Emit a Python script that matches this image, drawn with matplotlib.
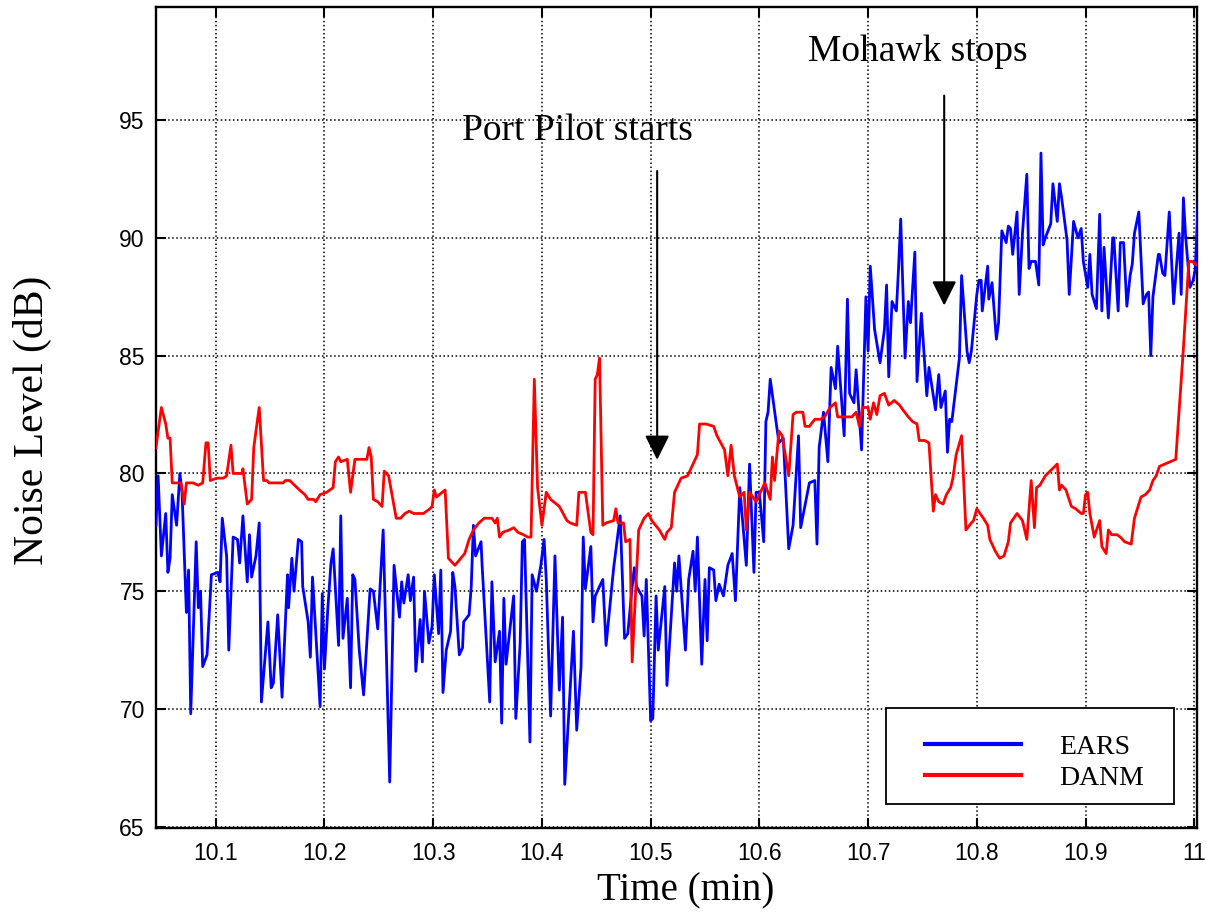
import numpy as np
import matplotlib.pyplot as plt
from matplotlib.patches import Rectangle

# ---- data (time in min, level in dB) ----
ears_t = [10.045, 10.047, 10.050, 10.054, 10.056, 10.058, 10.060, 10.064, 10.067, 10.069,
          10.073, 10.075, 10.077, 10.082, 10.084, 10.086, 10.088, 10.092, 10.096, 10.102,
          10.104, 10.106, 10.110, 10.112, 10.116, 10.120, 10.122, 10.125, 10.129, 10.131,
          10.133, 10.137, 10.140, 10.142, 10.148, 10.151, 10.153, 10.157, 10.161, 10.166,
          10.167, 10.170, 10.172, 10.176, 10.179, 10.180, 10.185, 10.187, 10.189, 10.196,
          10.198, 10.200, 10.203, 10.206, 10.208, 10.213, 10.215, 10.217, 10.221, 10.224,
          10.226, 10.228, 10.232, 10.236, 10.242, 10.245, 10.249, 10.254, 10.260, 10.264,
          10.269, 10.271, 10.273, 10.277, 10.279, 10.282, 10.284, 10.288, 10.290, 10.292,
          10.296, 10.299, 10.301, 10.305, 10.307, 10.309, 10.312, 10.316, 10.318, 10.320,
          10.324, 10.327, 10.328, 10.333, 10.335, 10.337, 10.339, 10.344, 10.345, 10.352,
          10.354, 10.357, 10.361, 10.363, 10.365, 10.367, 10.374, 10.376, 10.380, 10.382,
          10.384, 10.389, 10.391, 10.395, 10.399, 10.402, 10.404, 10.408, 10.412, 10.416,
          10.419, 10.421, 10.429, 10.432, 10.436, 10.438, 10.440, 10.445, 10.447, 10.449,
          10.456, 10.459, 10.466, 10.472, 10.476, 10.479, 10.483, 10.485, 10.487, 10.492,
          10.494, 10.496, 10.500, 10.502, 10.505, 10.507, 10.513, 10.515, 10.522, 10.524,
          10.526, 10.532, 10.535, 10.539, 10.541, 10.543, 10.547, 10.550, 10.552, 10.554,
          10.558, 10.560, 10.563, 10.567, 10.571, 10.575, 10.578, 10.582, 10.588, 10.591,
          10.595, 10.597, 10.600, 10.604, 10.606, 10.608, 10.610, 10.618, 10.622, 10.627,
          10.631, 10.636, 10.638, 10.646, 10.651, 10.653, 10.655, 10.659, 10.663, 10.666,
          10.670, 10.672, 10.678, 10.681, 10.683, 10.687, 10.689, 10.694, 10.698, 10.700,
          10.702, 10.706, 10.711, 10.715, 10.717, 10.719, 10.722, 10.726, 10.728, 10.730,
          10.734, 10.737, 10.739, 10.743, 10.745, 10.749, 10.754, 10.756, 10.762, 10.765,
          10.767, 10.771, 10.773, 10.775, 10.777, 10.784, 10.786, 10.791, 10.793, 10.795,
          10.800, 10.802, 10.804, 10.805, 10.810, 10.811, 10.814, 10.818, 10.820, 10.823,
          10.827, 10.829, 10.831, 10.833, 10.837, 10.839, 10.842, 10.846, 10.848, 10.850,
          10.854, 10.857, 10.859, 10.861, 10.863, 10.868, 10.870, 10.874, 10.876, 10.878,
          10.883, 10.885, 10.889, 10.893, 10.896, 10.898, 10.902, 10.904, 10.906, 10.910,
          10.913, 10.915, 10.917, 10.921, 10.925, 10.926, 10.930, 10.932, 10.935, 10.938,
          10.941, 10.943, 10.945, 10.949, 10.953, 10.956, 10.958, 10.960, 10.962, 10.967,
          10.968, 10.971, 10.973, 10.977, 10.981, 10.986, 10.988, 10.990, 10.992, 10.996,
          10.999, 11.001, 11.004]
ears_db = [77.8, 79.9, 76.5, 78.3, 75.8, 76.4, 79.1, 77.8, 80.0, 79.2,
           74.1, 75.9, 69.8, 77.1, 74.3, 75.0, 71.8, 72.3, 75.7, 75.8,
           75.4, 78.1, 76.5, 72.5, 77.3, 77.2, 76.2, 78.2, 75.4, 77.4,
           75.6, 76.5, 77.9, 70.3, 73.7, 70.9, 71.1, 74.0, 70.5, 75.7,
           74.3, 76.4, 75.0, 77.2, 77.1, 75.2, 73.7, 72.2, 75.6, 70.1,
           74.9, 71.7, 74.2, 76.2, 76.8, 72.7, 78.2, 73.0, 74.7, 70.9,
           75.7, 75.5, 72.5, 70.6, 75.1, 75.0, 73.4, 77.6, 66.9, 76.1,
           73.9, 75.4, 74.5, 75.7, 74.6, 75.6, 71.6, 73.8, 72.0, 75.0,
           72.8, 73.5, 75.7, 73.2, 75.9, 70.7, 72.5, 73.3, 75.8, 75.2,
           72.3, 72.6, 73.7, 74.0, 75.2, 77.8, 76.5, 77.1, 76.1, 70.3,
           75.4, 72.0, 73.3, 69.4, 74.7, 71.9, 74.8, 69.6, 72.8, 77.1,
           77.2, 68.6, 75.7, 75.0, 76.1, 77.2, 75.5, 69.7, 76.5, 70.8,
           73.9, 66.8, 73.3, 69.1, 71.8, 77.3, 75.1, 76.9, 73.7, 74.8,
           75.5, 72.7, 76.0, 78.2, 73.0, 73.2, 75.2, 76.0, 75.2, 74.8,
           73.1, 75.5, 69.5, 69.6, 74.8, 72.5, 75.2, 71.0, 76.2, 75.0,
           76.5, 72.5, 75.5, 76.7, 75.0, 77.3, 71.9, 75.5, 72.9, 76.0,
           75.9, 74.6, 75.3, 74.8, 76.1, 76.6, 74.6, 79.4, 76.1, 80.4,
           75.8, 79.2, 79.2, 77.1, 82.2, 82.6, 84.0, 81.3, 81.5, 76.8,
           77.8, 81.6, 77.7, 79.6, 79.7, 77.0, 81.1, 82.6, 80.5, 84.5,
           83.6, 85.4, 81.6, 87.4, 83.4, 83.0, 84.4, 81.0, 87.5, 85.2,
           88.8, 86.1, 84.7, 86.1, 88.0, 84.1, 87.3, 86.9, 88.7, 90.8,
           84.9, 87.3, 86.4, 89.4, 83.9, 86.8, 83.3, 84.5, 82.7, 84.2,
           82.8, 83.5, 80.9, 82.3, 82.2, 84.9, 88.4, 85.2, 84.7, 85.2,
           87.6, 88.2, 88.2, 86.9, 88.8, 87.4, 88.1, 85.7, 86.4, 90.3,
           89.8, 90.5, 90.4, 89.3, 91.1, 87.6, 90.2, 92.7, 88.7, 89.0,
           89.0, 88.0, 93.6, 89.7, 90.0, 90.6, 92.3, 90.7, 92.3, 91.7,
           89.9, 87.6, 90.7, 90.0, 90.4, 89.0, 87.9, 89.3, 87.6, 87.0,
           91.0, 86.9, 89.6, 86.6, 90.0, 90.0, 86.9, 89.8, 89.8, 87.1,
           88.4, 88.9, 90.2, 91.1, 87.2, 87.6, 87.7, 85.0, 87.5, 89.3,
           89.3, 88.5, 88.4, 91.1, 87.2, 90.2, 87.6, 91.7, 90.1, 87.9,
           88.2, 88.7, 92.0]

danm_t = [10.045, 10.050, 10.054, 10.056, 10.058, 10.060, 10.068, 10.071, 10.073, 10.079,
          10.084, 10.088, 10.091, 10.093, 10.095, 10.101, 10.107, 10.110, 10.114, 10.116,
          10.124, 10.125, 10.129, 10.133, 10.135, 10.137, 10.140, 10.144, 10.147, 10.149,
          10.162, 10.164, 10.168, 10.177, 10.182, 10.185, 10.190, 10.192, 10.196, 10.202,
          10.208, 10.210, 10.213, 10.215, 10.221, 10.224, 10.228, 10.239, 10.241, 10.243,
          10.245, 10.249, 10.253, 10.255, 10.259, 10.266, 10.270, 10.274, 10.278, 10.282,
          10.291, 10.297, 10.299, 10.301, 10.303, 10.311, 10.314, 10.320, 10.329, 10.333,
          10.337, 10.342, 10.347, 10.354, 10.357, 10.359, 10.361, 10.364, 10.370, 10.374,
          10.378, 10.383, 10.387, 10.390, 10.393, 10.396, 10.400, 10.404, 10.408, 10.416,
          10.423, 10.426, 10.432, 10.434, 10.440, 10.445, 10.447, 10.449, 10.451, 10.453,
          10.456, 10.459, 10.466, 10.468, 10.470, 10.475, 10.477, 10.481, 10.483, 10.489,
          10.494, 10.498, 10.501, 10.508, 10.513, 10.515, 10.519, 10.522, 10.528, 10.534,
          10.538, 10.543, 10.545, 10.551, 10.558, 10.561, 10.568, 10.571, 10.574, 10.577,
          10.582, 10.586, 10.588, 10.591, 10.597, 10.605, 10.610, 10.612, 10.614, 10.618,
          10.621, 10.627, 10.631, 10.634, 10.640, 10.642, 10.646, 10.651, 10.656, 10.660,
          10.665, 10.670, 10.672, 10.685, 10.689, 10.692, 10.695, 10.700, 10.702, 10.705,
          10.708, 10.711, 10.715, 10.719, 10.724, 10.729, 10.732, 10.737, 10.741, 10.745,
          10.747, 10.752, 10.756, 10.760, 10.762, 10.765, 10.769, 10.772, 10.776, 10.778,
          10.781, 10.786, 10.790, 10.795, 10.797, 10.800, 10.806, 10.810, 10.812, 10.817,
          10.821, 10.825, 10.829, 10.831, 10.837, 10.842, 10.846, 10.850, 10.853, 10.855,
          10.858, 10.863, 10.874, 10.876, 10.878, 10.882, 10.887, 10.891, 10.896, 10.898,
          10.900, 10.902, 10.904, 10.908, 10.913, 10.915, 10.919, 10.921, 10.924, 10.929,
          10.932, 10.936, 10.942, 10.945, 10.951, 10.955, 10.959, 10.962, 10.965, 10.968,
          10.973, 10.978, 10.983, 10.990, 10.995, 10.998, 11.004]
danm_db = [81.1, 82.8, 82.1, 81.5, 81.5, 79.6, 79.6, 78.7, 79.6, 79.6,
           79.5, 79.6, 81.3, 81.3, 79.7, 79.8, 79.8, 79.9, 81.2, 80.0,
           80.0, 80.2, 78.7, 78.9, 81.1, 81.8, 82.8, 79.7, 79.7, 79.6,
           79.6, 79.7, 79.7, 79.3, 79.1, 78.9, 78.9, 78.8, 79.1, 79.2,
           79.4, 80.5, 80.7, 80.5, 80.6, 79.2, 80.6, 80.6, 81.1, 80.7,
           78.9, 78.8, 78.6, 80.1, 79.9, 78.1, 78.1, 78.3, 78.4, 78.3,
           78.3, 78.5, 78.6, 79.3, 79.0, 79.3, 76.4, 76.1, 76.6, 77.2,
           77.6, 77.9, 78.1, 78.1, 77.9, 78.1, 77.3, 77.5, 77.6, 77.7,
           77.5, 77.4, 77.3, 77.3, 84.0, 79.4, 77.8, 79.2, 78.9, 78.6,
           78.0, 77.9, 77.8, 79.2, 79.2, 77.5, 77.4, 84.0, 84.2, 84.9,
           77.8, 77.9, 78.0, 78.5, 77.9, 77.9, 77.1, 77.2, 72.0, 77.6,
           78.1, 78.3, 78.0, 77.6, 77.2, 77.5, 77.7, 79.2, 79.8, 79.9,
           80.3, 80.8, 82.1, 82.1, 82.0, 81.6, 81.0, 79.9, 81.2, 79.9,
           79.0, 79.2, 77.6, 79.2, 78.8, 79.6, 78.9, 80.7, 79.7, 81.8,
           81.6, 79.9, 82.5, 82.6, 82.6, 82.0, 82.0, 82.3, 82.3, 82.4,
           82.8, 83.0, 82.4, 82.4, 82.6, 82.0, 82.8, 82.8, 82.3, 83.0,
           82.5, 83.3, 83.4, 82.9, 83.1, 82.9, 82.7, 82.4, 82.2, 82.1,
           81.4, 81.4, 81.3, 78.4, 79.1, 78.8, 78.7, 79.1, 79.4, 79.8,
           80.8, 81.6, 77.6, 77.9, 78.0, 78.5, 78.1, 77.8, 77.2, 76.7,
           76.4, 76.5, 77.1, 77.9, 78.3, 78.0, 77.2, 79.7, 77.7, 79.4,
           79.5, 79.9, 80.4, 79.3, 79.5, 79.3, 78.6, 78.5, 78.3, 78.3,
           79.1, 79.2, 78.3, 77.3, 78.0, 76.9, 76.6, 77.6, 77.4, 77.4,
           77.3, 77.1, 77.0, 78.1, 79.0, 79.1, 79.3, 79.7, 79.9, 80.3,
           80.4, 80.5, 80.6, 85.3, 89.0, 89.0, 88.8]

x_ticks = [10.1, 10.2, 10.3, 10.4, 10.5, 10.6, 10.7, 10.8, 10.9, 11.0]
x_labels = ['10.1', '10.2', '10.3', '10.4', '10.5', '10.6', '10.7', '10.8', '10.9', '11']
y_ticks = [65, 70, 75, 80, 85, 90, 95]

serif = ['Liberation Serif', 'DejaVu Serif']
sans = ['Liberation Sans', 'DejaVu Sans']

fig = plt.figure(figsize=(12.07, 9.15), dpi=100)
ax = fig.add_axes([0.1292, 0.0951, 0.8625, 0.8972])

ax.plot(ears_t, ears_db, color='#0000ff', lw=2.0, label='EARS', zorder=3)
ax.plot(danm_t, danm_db, color='#ff0000', lw=2.0, label='DANM', zorder=3)

ax.set_xlim(10.045, 11.0025)
ax.set_ylim(64.95, 99.8)
ax.set_xticks(x_ticks)
ax.set_xticklabels(x_labels)
ax.set_yticks(y_ticks)

ax.grid(True, color='k', linestyle=':', linewidth=1.1)
ax.tick_params(direction='in', length=7, width=1.5, top=True, right=True,
               labelsize=16.5)
ax.tick_params(axis='x', pad=10)
ax.tick_params(axis='y', pad=8)
for lbl in ax.get_xticklabels() + ax.get_yticklabels():
    lbl.set_family(sans)
for sp in ax.spines.values():
    sp.set_linewidth(1.7)

ax.set_xlabel('Time (min)', family=serif, fontsize=28)
ax.set_ylabel('Noise Level (dB)', family=serif, fontsize=30)
ax.xaxis.set_label_coords(0.509, -0.054)
ax.yaxis.set_label_coords(-0.100, 0.497)

# annotations
ax.text(10.433, 94.55, 'Port Pilot starts', family=serif, fontsize=27,
        ha='center', va='center')
ax.annotate('', xy=(10.506, 80.58), xytext=(10.506, 92.84),
            arrowprops=dict(arrowstyle='-|>,head_length=1.0,head_width=0.5',
                            mutation_scale=15, lw=1.5, color='k',
                            shrinkA=0, shrinkB=0))
ax.text(10.746, 97.9, 'Mohawk stops', family=serif, fontsize=27,
        ha='center', va='center')
ax.annotate('', xy=(10.770, 87.13), xytext=(10.770, 96.04),
            arrowprops=dict(arrowstyle='-|>,head_length=1.0,head_width=0.5',
                            mutation_scale=15, lw=1.5, color='k',
                            shrinkA=0, shrinkB=0))

# legend: frame drawn as a box, entries placed inside
ax.add_patch(Rectangle((0.7012, 0.0292), 0.2767, 0.117, transform=ax.transAxes,
                       facecolor='white', edgecolor='k', lw=1.3, zorder=5))
leg = ax.legend(loc='center left', bbox_to_anchor=(0.7387, 0.0798), borderaxespad=0,
                borderpad=0, prop={'family': serif, 'size': 20}, frameon=False,
                handlelength=3.45, handletextpad=1.37, labelspacing=0.2)
leg.set_zorder(6)
for line in leg.get_lines():
    line.set_linewidth(3)

fig.savefig('out.png', dpi=100)
